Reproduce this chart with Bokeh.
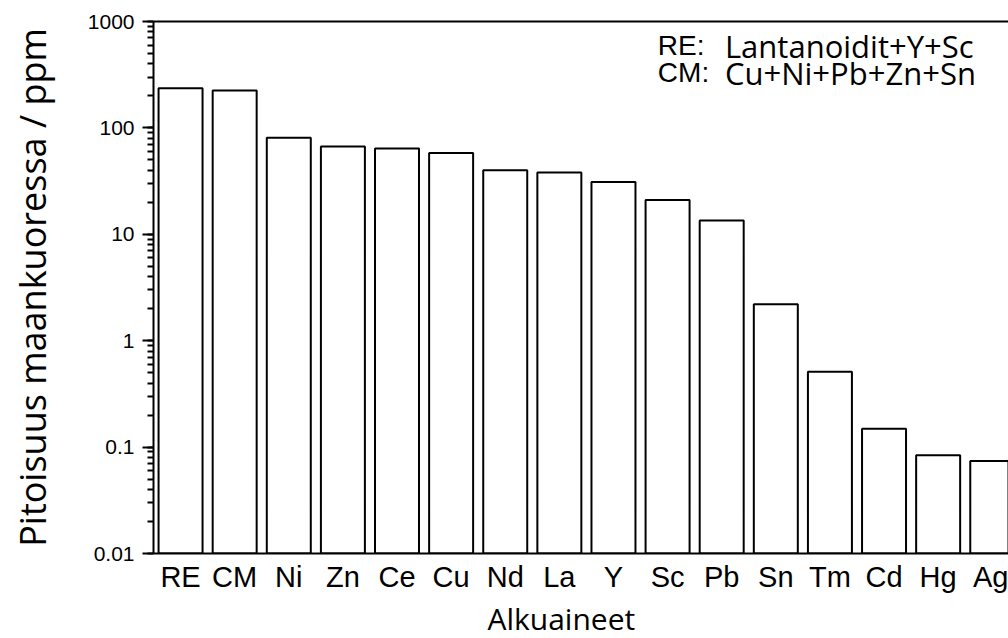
from bokeh.plotting import figure
from bokeh.models import (Range1d, FixedTicker, LogTicker, NumeralTickFormatter,
                          LinearAxis, Label, Title, ColumnDataSource)
from bokeh.embed import file_html
from bokeh.resources import INLINE

# ---- data ----
elements = ["RE", "CM", "Ni", "Zn", "Ce", "Cu", "Nd", "La", "Y", "Sc",
            "Pb", "Sn", "Tm", "Cd", "Hg", "Ag"]
abundance_ppm = [236, 225, 81, 67, 64, 58, 40, 38, 31, 21,
                 13.5, 2.2, 0.51, 0.149, 0.084, 0.074]
y_ticks = [0.01, 0.1, 1, 10, 100, 1000]
legend_keys = ["RE:", "CM:"]
legend_texts = ["Lantanoidit+Y+Sc", "Cu+Ni+Pb+Zn+Sn"]
x_title = "Alkuaineet"
y_title = "Pitoisuus maankuoressa / ppm"

positions = list(range(len(elements)))
src = ColumnDataSource(dict(x=positions, top=abundance_ppm,
                            bottom=[y_ticks[0]] * len(elements)))

p = figure(width=1008, height=638, output_backend="svg", toolbar_location=None,
           y_axis_type="log",
           x_range=Range1d(-0.5, 15.3), y_range=Range1d(y_ticks[0], y_ticks[-1]),
           min_border_left=153, min_border_right=0, min_border_top=21,
           min_border_bottom=85)
p.outline_line_color = None
p.background_fill_color = "white"
p.border_fill_color = "white"
p.xgrid.visible = False
p.ygrid.visible = False

p.vbar(x="x", top="top", bottom="bottom", width=0.813, source=src,
       fill_color="white", line_color="black", line_width=2)

# x axis
xa = p.xaxis[0]
xa.ticker = FixedTicker(ticks=positions)
xa.major_label_overrides = {i: e for i, e in enumerate(elements)}
xa.major_tick_line_color = None
xa.minor_tick_line_color = None
xa.major_tick_out = 0
xa.major_tick_in = 0
xa.axis_line_width = 2
xa.axis_line_color = "black"
xa.major_label_text_font = "Liberation Sans"
xa.major_label_text_font_size = "29px"
xa.major_label_text_color = "black"
xa.major_label_standoff = 7

# y axis
ya = p.yaxis[0]
ya.ticker = LogTicker(num_minor_ticks=10)
ya.formatter = NumeralTickFormatter(format="0.[00]")
ya.axis_line_width = 2
ya.axis_line_color = "black"
ya.major_tick_line_width = 2
ya.minor_tick_line_width = 2
ya.major_tick_line_color = "black"
ya.minor_tick_line_color = "black"
ya.major_tick_out = 11
ya.major_tick_in = 0
ya.minor_tick_out = 6
ya.minor_tick_in = 0
ya.major_label_text_font = "Liberation Sans"
ya.major_label_text_font_size = "21px"
ya.major_label_text_color = "black"
ya.major_label_standoff = 8
ya.axis_label = y_title
ya.axis_label_text_font = "Open Sans"
ya.axis_label_text_font_style = "normal"
ya.axis_label_text_font_size = "36px"
ya.axis_label_text_color = "black"
ya.axis_label_standoff = 28

# top border line
top_axis = LinearAxis(ticker=FixedTicker(ticks=[]), axis_line_width=2,
                      axis_line_color="black", major_tick_out=0, major_tick_in=0,
                      minor_tick_out=0, minor_tick_in=0)
p.add_layout(top_axis, "above")

# x axis title
p.add_layout(Title(text=x_title, align="left", offset=334, standoff=0,
                   text_font="Open Sans", text_font_size="30px",
                   text_font_style="normal", text_color="black"), "below")

# legend texts
for key, txt, yv in zip(legend_keys, legend_texts, [590, 330]):
    p.add_layout(Label(x=8.82, y=yv, text=key, text_align="left",
                       text_baseline="middle", text_font="Liberation Sans",
                       text_font_size="28px", text_color="black"))
    p.add_layout(Label(x=10.06, y=yv, text=txt, text_align="left",
                       text_baseline="middle", text_font="Open Sans",
                       text_font_size="31px", text_color="black"))

open("out.html", "w").write(file_html(p, INLINE))
